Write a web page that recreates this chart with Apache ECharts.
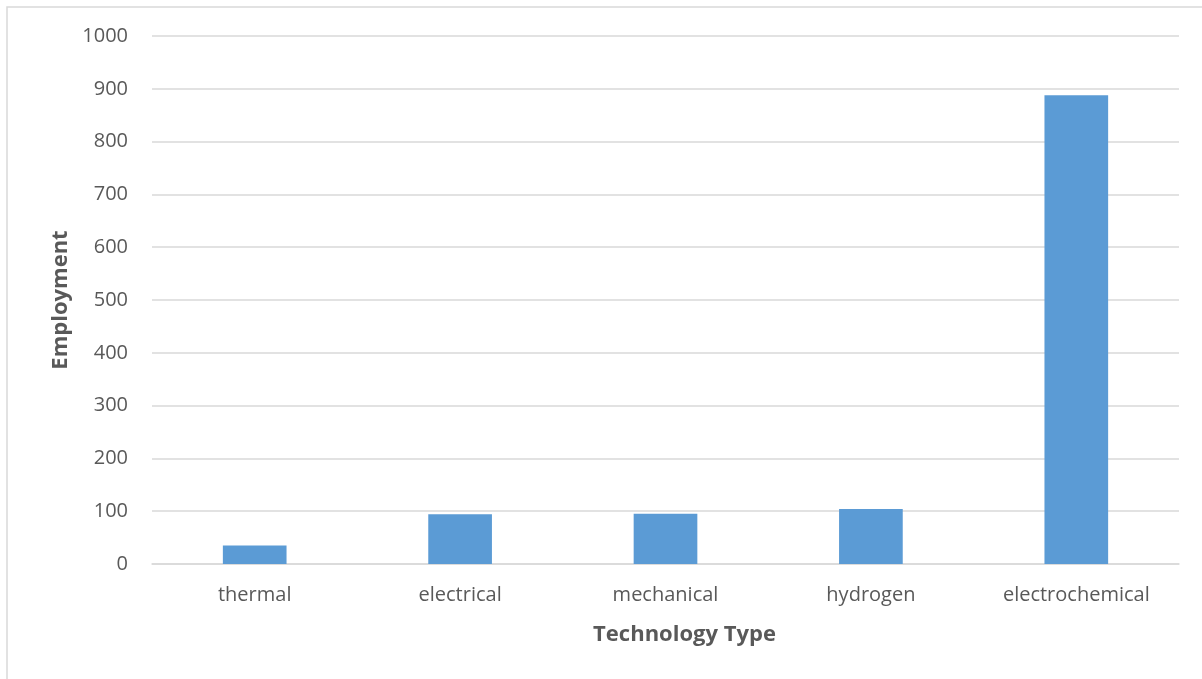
<!DOCTYPE html>
<html>
<head>
<meta charset="utf-8">
<script src="https://cdn.jsdelivr.net/npm/echarts@6/dist/echarts.min.js"></script>
<style>
  html, body { margin: 0; padding: 0; background: #ffffff; }
  #chart { width: 1202px; height: 679px; }
</style>
</head>
<body>
<div id="chart"></div>
<script>
// Employment by energy storage technology type
const categories = ['thermal', 'electrical', 'mechanical', 'hydrogen', 'electrochemical'];
const employment = [35, 94, 95, 104, 888];
const yTicks = { min: 0, max: 1000, interval: 100 };

const FONT = '"Open Sans", "Noto Sans", sans-serif';
const chart = echarts.init(document.getElementById('chart'), null, { renderer: 'canvas' });

chart.setOption({
  animation: false,
  backgroundColor: '#ffffff',
  textStyle: { fontFamily: FONT },
  graphic: [{
    type: 'polyline',
    shape: { points: [[7, 679], [7, 7], [1202, 7]] },
    style: { stroke: '#d9d9d9', lineWidth: 1.5, fill: null },
    silent: true
  }],
  grid: { left: 152, right: 23, top: 36, bottom: 115 },
  xAxis: {
    type: 'category',
    data: categories,
    name: 'Technology Type',
    nameLocation: 'middle',
    nameGap: 60,
    nameTextStyle: { fontFamily: FONT, fontSize: 22, fontWeight: 'bold', color: '#595959', padding: [0, 0, 0, 38] },
    axisLine: { lineStyle: { color: '#d9d9d9', width: 1.5 } },
    axisTick: { show: false },
    axisLabel: { fontFamily: FONT, fontSize: 20, color: '#595959', margin: 21 }
  },
  yAxis: {
    type: 'value',
    min: yTicks.min,
    max: yTicks.max,
    interval: yTicks.interval,
    name: 'Employment',
    nameLocation: 'middle',
    nameGap: 80,
    nameTextStyle: { fontFamily: FONT, fontSize: 22, fontWeight: 'bold', color: '#595959' },
    axisLine: { show: false },
    axisTick: { show: false },
    axisLabel: { fontFamily: FONT, fontSize: 20, color: '#595959', margin: 24, formatter: v => String(v) },
    splitLine: { lineStyle: { color: '#d9d9d9', width: 1.5 } }
  },
  series: [{
    type: 'bar',
    data: employment,
    barWidth: '31%',
    itemStyle: { color: '#5b9bd5' }
  }]
});
</script>
</body>
</html>
